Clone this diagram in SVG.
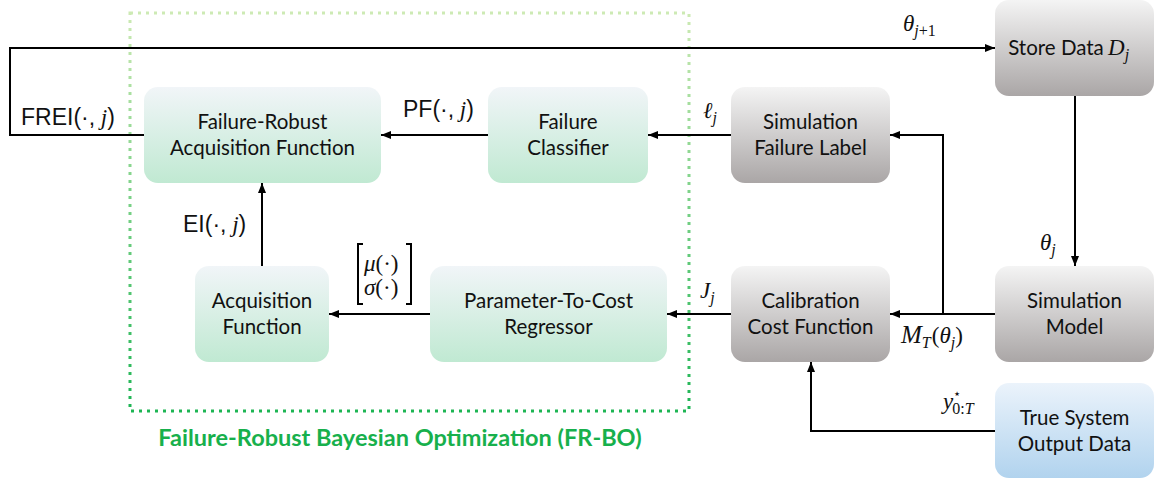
<svg xmlns="http://www.w3.org/2000/svg" width="1156" height="482" viewBox="0 0 1156 482">
  <defs>
    <linearGradient id="gGreen" x1="0" y1="0" x2="0" y2="1">
      <stop offset="0" stop-color="#f1f5f8"/>
      <stop offset="1" stop-color="#c0e9d2"/>
    </linearGradient>
    <linearGradient id="gGray" x1="0" y1="0" x2="0" y2="1">
      <stop offset="0" stop-color="#f4f4f4"/>
      <stop offset="1" stop-color="#aaa6a6"/>
    </linearGradient>
    <linearGradient id="gBlue" x1="0" y1="0" x2="0" y2="1">
      <stop offset="0" stop-color="#ebf3fb"/>
      <stop offset="1" stop-color="#b1d3ee"/>
    </linearGradient>
    <linearGradient id="gFrame" gradientUnits="userSpaceOnUse" x1="0" y1="13" x2="0" y2="411">
      <stop offset="0" stop-color="#cdeab4"/>
      <stop offset="1" stop-color="#1db554"/>
    </linearGradient>
    <marker id="arrow" markerUnits="userSpaceOnUse" markerWidth="10" markerHeight="8" refX="10" refY="4" orient="auto">
      <path d="M0,0 L10,4 L0,8 z" fill="#000"/>
    </marker>
  </defs>
  <style>
    .node text { font-family: Lato, "Open Sans", sans-serif; font-size: 20.5px; fill: #111; text-anchor: middle; }
    .green { fill: url(#gGreen); }
    .gray { fill: url(#gGray); }
    .blue { fill: url(#gBlue); }
    .wire { fill: none; stroke: #000; stroke-width: 2; marker-end: url(#arrow); }
    .wire-plain { fill: none; stroke: #000; stroke-width: 2; }
    .math { font-family: "Liberation Serif", "DejaVu Serif", serif; font-size: 23px; font-style: italic; fill: #111; }
    .up { font-style: normal; }
    .sans { font-family: "Liberation Sans", Arial, sans-serif; font-style: normal; }
    .sub { font-size: 16px; }
    .title { font-family: Lato, "Open Sans", sans-serif; font-weight: bold; font-size: 23.5px; fill: #17b04c; text-anchor: middle; }
  </style>

  <rect width="1156" height="482" fill="#fff"/>

  <!-- FR-BO frame -->
  <g id="frbo-frame">
    <rect x="130" y="13" width="559" height="398" fill="none" stroke="url(#gFrame)" stroke-width="3" stroke-dasharray="3 5"/>
    <text class="title" x="400" y="446">Failure-Robust Bayesian Optimization (FR-BO)</text>
  </g>

  <!-- connectors -->
  <g id="connectors">
    <path class="wire" d="M144,135 H10 V48 H995"/>
    <path class="wire" d="M488,135 H381"/>
    <path class="wire" d="M731,135 H648"/>
    <path class="wire" d="M943,314 V135 H890"/>
    <path class="wire" d="M995,314 H890"/>
    <path class="wire" d="M1075,96 V266"/>
    <path class="wire" d="M731,314 H667"/>
    <path class="wire" d="M430,314 H329"/>
    <path class="wire" d="M262,266 V183"/>
    <path class="wire" d="M995,431 H811 V362"/>
  </g>

  <!-- connector labels -->
  <g id="labels">
    <text class="math" x="21" y="125"><tspan class="sans">FREI(·,</tspan> j<tspan class="sans">)</tspan></text>
    <text class="math" x="403" y="117"><tspan class="sans">PF(·,</tspan> j<tspan class="sans">)</tspan></text>
    <text class="math" x="183" y="232"><tspan class="sans">EI(·,</tspan> j<tspan class="sans">)</tspan></text>
    <text class="math" x="903" y="31">θ<tspan class="sub" dy="5">j</tspan><tspan class="sub up">+1</tspan></text>
    <text class="math" x="703" y="118">ℓ<tspan class="sub" dy="5">j</tspan></text>
    <text class="math" x="700" y="298">J<tspan class="sub" dy="5">j</tspan></text>
    <text class="math" x="1040" y="250">θ<tspan class="sub" dy="5">j</tspan></text>
    <text class="math" x="901" y="343"><tspan font-size="25">M</tspan><tspan class="sub" dy="5">T</tspan><tspan class="up" dx="1" dy="-5">(</tspan>θ<tspan class="sub" dy="5">j</tspan><tspan class="up" dy="-5">)</tspan></text>
    <text class="math" x="943" y="409">y<tspan class="up" font-size="13" dy="-11">⋆</tspan><tspan class="sub up" dx="-9" dy="16">0:</tspan><tspan class="sub">T</tspan></text>
    <!-- mean / std column vector -->
    <path class="wire-plain" d="M363,244 H358 V304 H363 M406,244 H411 V304 H406" stroke-width="1.5"/>
    <text class="math" x="364" y="271">μ<tspan class="up">(·)</tspan></text>
    <text class="math" x="364" y="295">σ<tspan class="up">(·)</tspan></text>
  </g>

  <!-- nodes -->
  <g id="node-fr-acq" class="node">
    <rect class="green" x="144" y="87" width="237" height="96" rx="14"/>
    <text x="262.5" y="129">Failure-Robust</text>
    <text x="262.5" y="155">Acquisition Function</text>
  </g>
  <g id="node-failure-classifier" class="node">
    <rect class="green" x="488" y="87" width="160" height="96" rx="14"/>
    <text x="568" y="129">Failure</text>
    <text x="568" y="155">Classifier</text>
  </g>
  <g id="node-sim-failure-label" class="node">
    <rect class="gray" x="731" y="87" width="159" height="96" rx="14"/>
    <text x="810.5" y="129">Simulation</text>
    <text x="810.5" y="155">Failure Label</text>
  </g>
  <g id="node-store-data" class="node">
    <rect class="gray" x="995" y="0" width="159" height="96" rx="14"/>
    <text x="1056" y="55">Store Data</text>
    <text x="1108" y="55" style="text-anchor:start"><tspan style="font-family:'Liberation Serif',serif;font-style:italic;font-size:23px">D</tspan><tspan style="font-family:'Liberation Serif',serif;font-style:italic;font-size:16px" dy="5">j</tspan></text>
  </g>
  <g id="node-acq" class="node">
    <rect class="green" x="195" y="266" width="134" height="96" rx="14"/>
    <text x="262" y="308">Acquisition</text>
    <text x="262" y="334">Function</text>
  </g>
  <g id="node-regressor" class="node">
    <rect class="green" x="430" y="266" width="237" height="96" rx="14"/>
    <text x="548.5" y="308">Parameter-To-Cost</text>
    <text x="548.5" y="334">Regressor</text>
  </g>
  <g id="node-cost" class="node">
    <rect class="gray" x="731" y="266" width="159" height="96" rx="14"/>
    <text x="810.5" y="308">Calibration</text>
    <text x="810.5" y="334">Cost Function</text>
  </g>
  <g id="node-sim-model" class="node">
    <rect class="gray" x="995" y="266" width="159" height="96" rx="14"/>
    <text x="1074.5" y="308">Simulation</text>
    <text x="1074.5" y="334">Model</text>
  </g>
  <g id="node-true-output" class="node">
    <rect class="blue" x="995" y="383" width="159" height="95" rx="14"/>
    <text x="1074.5" y="425">True System</text>
    <text x="1074.5" y="451">Output Data</text>
  </g>
</svg>
